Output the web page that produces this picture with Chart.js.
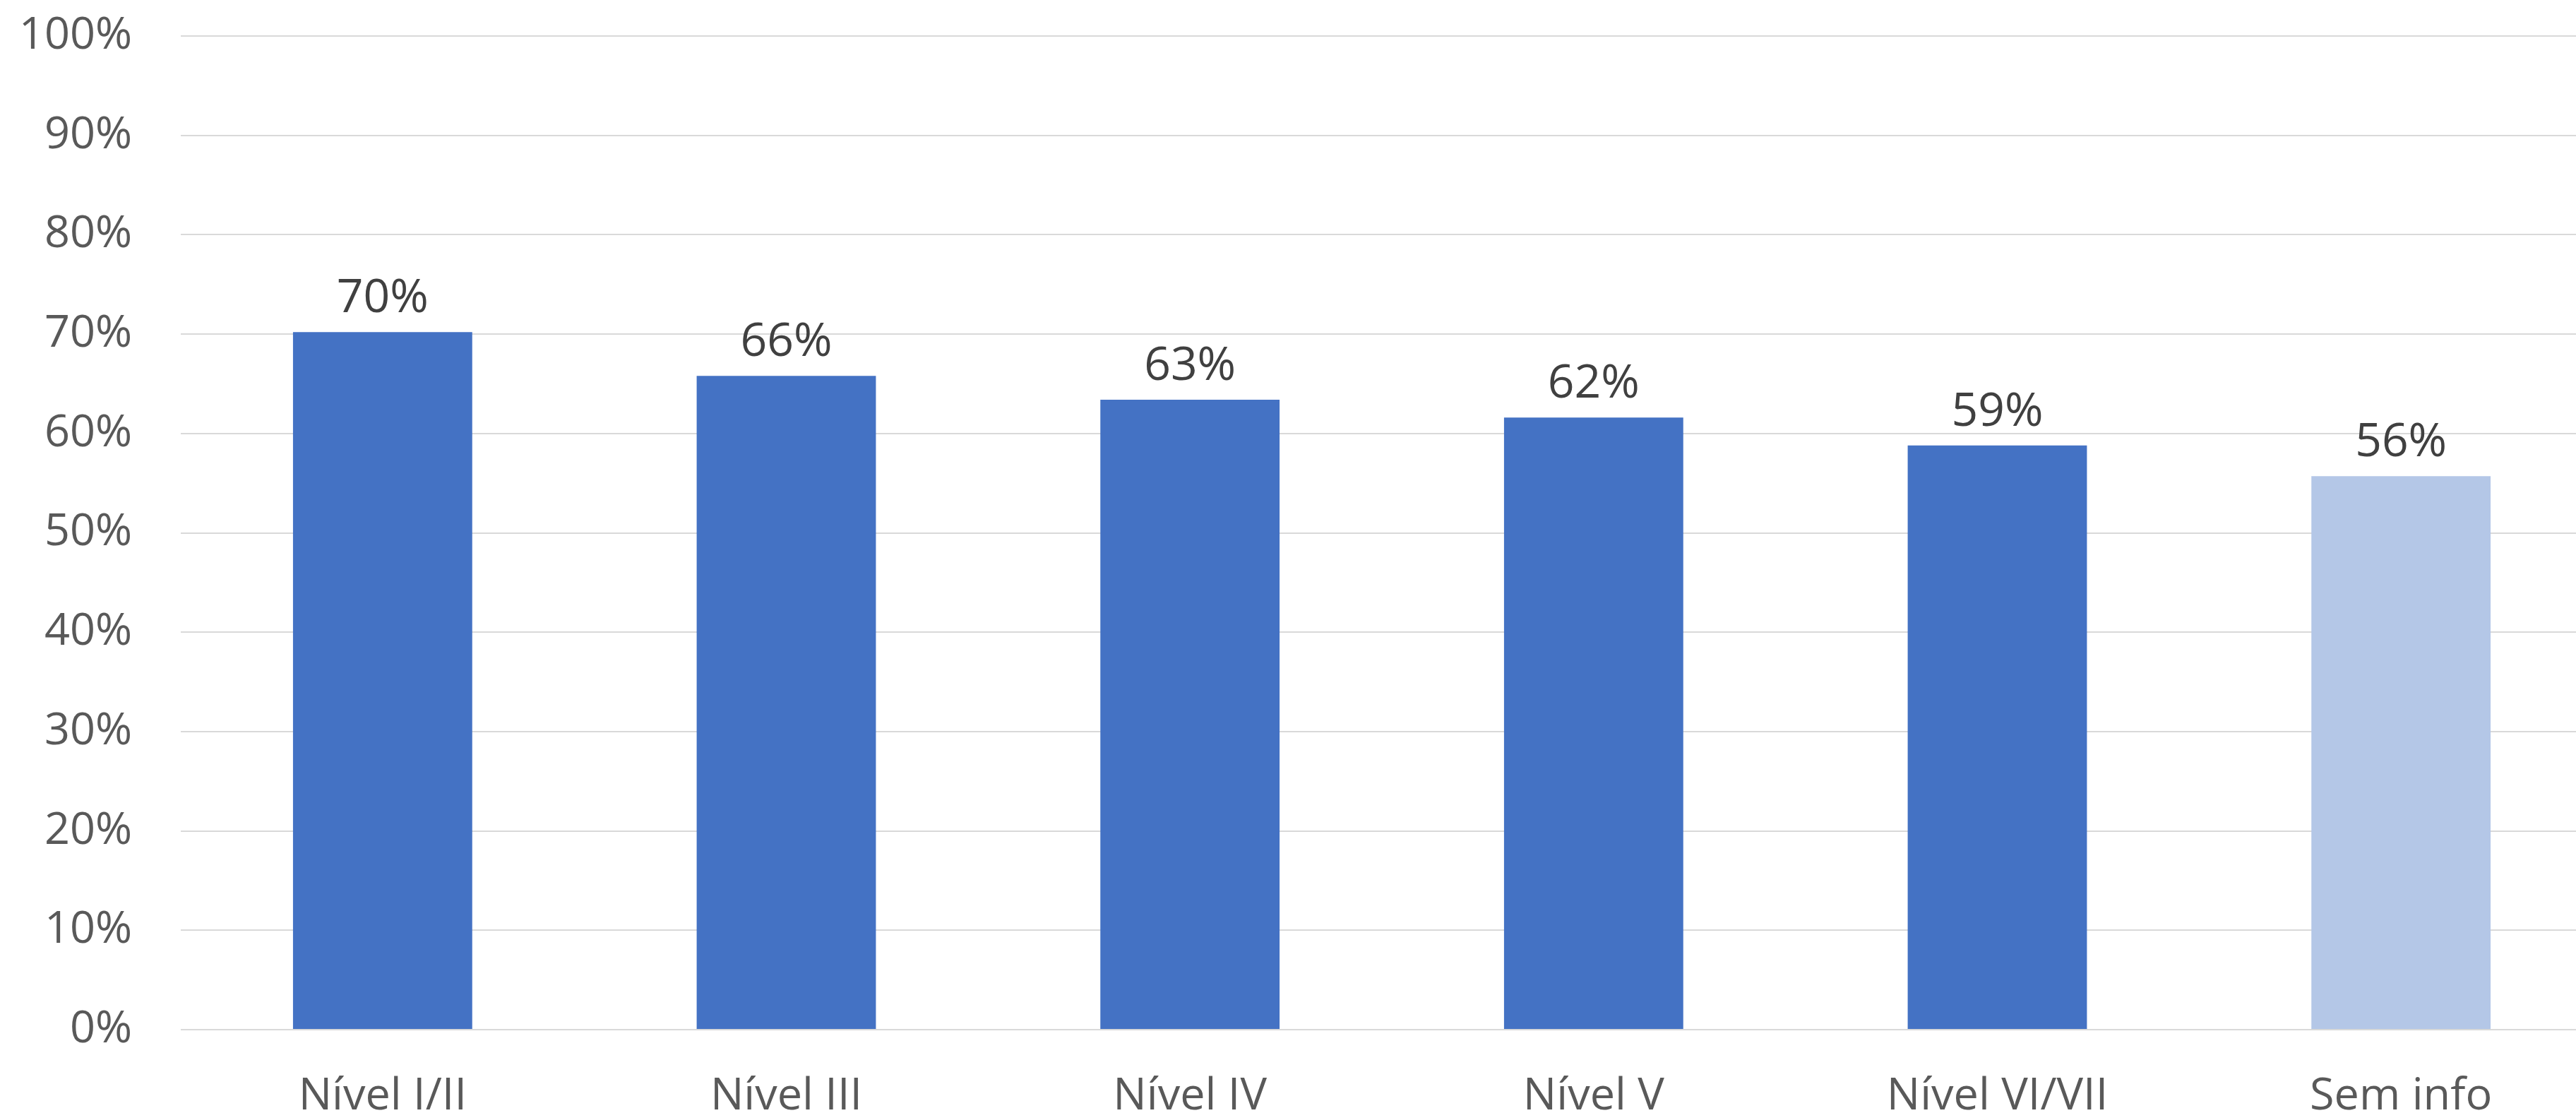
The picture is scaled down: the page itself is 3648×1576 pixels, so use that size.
<!DOCTYPE html>
<html>
<head>
<meta charset="utf-8">
<script src="https://cdn.jsdelivr.net/npm/chart.js@4.4.1/dist/chart.umd.min.js"></script>
<style>
  html, body { margin: 0; padding: 0; background: #fff; overflow: hidden; }
  #wrap { width: 3686px; height: 1576px; }
</style>
</head>
<body>
<div id="wrap"><canvas id="chart" width="3686" height="1576"></canvas></div>
<script>
// categories and values (percent)
const categories = ['Nível I/II', 'Nível III', 'Nível IV', 'Nível V', 'Nível VI/VII', 'Sem info'];
const values = [70.2, 65.8, 63.4, 61.6, 58.8, 55.7];
const valueLabels = ['70%', '66%', '63%', '62%', '59%', '56%'];
const barColors = ['#4472C4', '#4472C4', '#4472C4', '#4472C4', '#4472C4', '#B4C7E7'];
const yTicks = [0, 10, 20, 30, 40, 50, 60, 70, 80, 90, 100];

// labels above each bar
const barLabels = {
  id: 'barLabels',
  afterDatasetsDraw(chart) {
    const ctx = chart.ctx;
    const meta = chart.getDatasetMeta(0);
    ctx.save();
    ctx.font = '66px "Open Sans"';
    ctx.fillStyle = '#404040';
    ctx.textAlign = 'center';
    ctx.textBaseline = 'alphabetic';
    meta.data.forEach((bar, i) => {
      ctx.fillText(valueLabels[i], bar.x, bar.y - 28);
    });
    ctx.restore();
  }
};

new Chart(document.getElementById('chart'), {
  type: 'bar',
  data: {
    labels: categories,
    datasets: [{
      data: values,
      backgroundColor: barColors,
      borderWidth: 0,
      categoryPercentage: 1,
      barPercentage: 0.444
    }]
  },
  options: {
    responsive: false,
    animation: false,
    devicePixelRatio: 1,
    layout: { padding: { top: 51, left: 0, right: 0, bottom: 0 } },
    plugins: {
      legend: { display: false },
      tooltip: { enabled: false }
    },
    scales: {
      x: {
        grid: { display: false },
        border: { display: false },
        ticks: {
          color: '#595959',
          font: { family: 'Open Sans', size: 63 },
          padding: 49,
          maxRotation: 0
        },
        afterFit(scale) {
          scale.height = 118;
          scale.paddingLeft = 0;
          scale.paddingRight = 0;
        }
      },
      y: {
        min: 0,
        max: 100,
        afterBuildTicks(scale) { scale.ticks = yTicks.map(v => ({ value: v })); },
        grid: { color: '#d9d9d9', lineWidth: 2, drawTicks: false },
        border: { display: false },
        ticks: {
          color: '#595959',
          font: { family: 'Open Sans', size: 63 },
          padding: 69,
          callback: v => v + '%'
        },
        afterFit(scale) {
          scale.width = 256;
          scale.paddingTop = 0;
          scale.paddingBottom = 0;
        }
      }
    }
  },
  plugins: [barLabels]
});
</script>
</body>
</html>
